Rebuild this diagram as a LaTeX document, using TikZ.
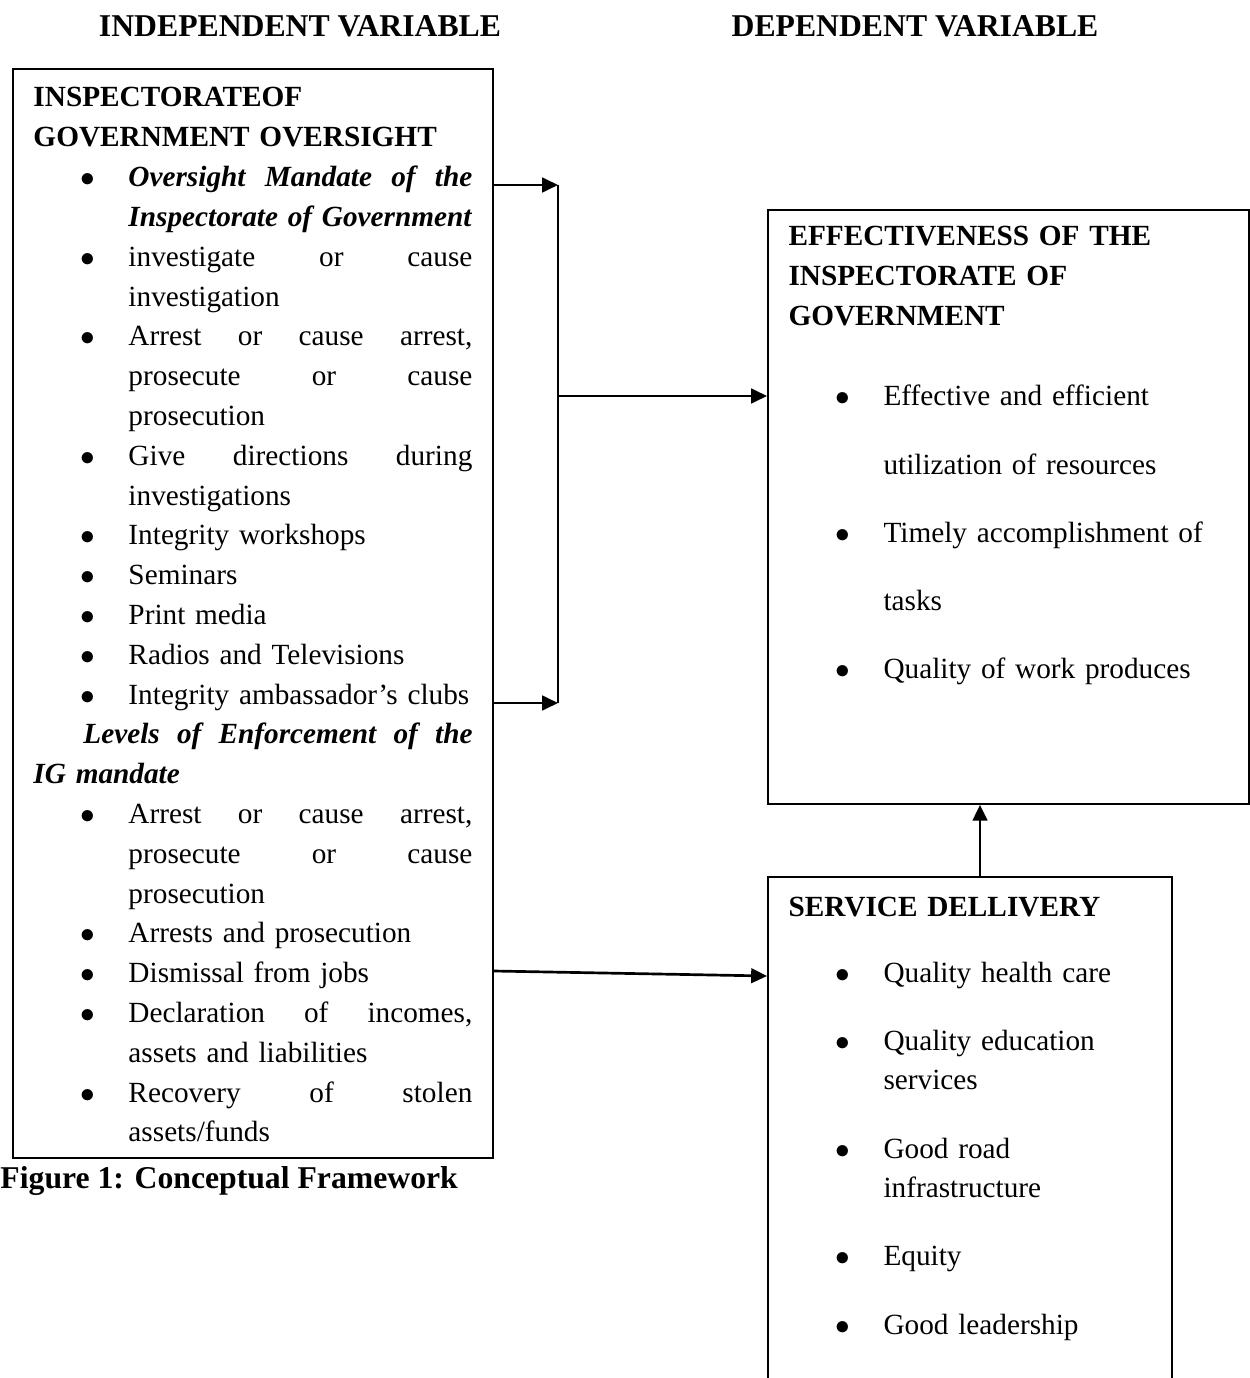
\documentclass[tikz,border=0pt]{standalone}
\usepackage{fontspec}
\setmainfont{Liberation Serif}
\usetikzlibrary{arrows.meta}

\newcommand{\spreadline}[1]{\makebox[141pt][s]{\spaceskip=3pt plus 1fil\relax#1}}
\newcommand{\contline}{\hspace*{38.95pt}}
\newcommand{\bulmark}{\leavevmode\llap{$\bullet$\hspace{13.8pt}}}
\newcommand{\bulitem}{\contline\bulmark}
\newcommand{\itemgap}{11.6pt}

\begin{document}
\begin{tikzpicture}[x=0.41pt, y=-0.41pt,
  box/.style={draw, line width=0.8pt, inner sep=0pt, anchor=north west},
  txt/.style={inner sep=0pt, anchor=base west, align=left, font={\fontsize{12}{16.32}\selectfont}},
  boldtxt/.style={txt, font={\fontsize{12}{16.32}\selectfont\bfseries}},
  head/.style={inner sep=0pt, anchor=base, font={\fontsize{13}{16}\selectfont\bfseries}},
  arr/.style={-{Triangle[length=6.5pt,width=6pt]}, line width=1.1pt}]
  \useasboundingbox (0,0) rectangle (1249,1378);

  % headings
  \node[head] (indep) at (300,37) {INDEPENDENT VARIABLE};
  \node[head] (dep) at (915,37) {DEPENDENT VARIABLE};

  % boxes
  \node[box, minimum width=196.8pt, minimum height=446.5pt] (iv) at (12,68) {};
  \node[box, minimum width=197.2pt, minimum height=243.5pt] (eff) at (767,209) {};
  \node[box, minimum width=165.6pt, minimum height=213pt] (sd) at (767,876) {};

  % independent variable text
  \node[txt, text width=181pt] (ivtext) at (33,107) {%
    \textbf{INSPECTORATEOF}\\
    \textbf{GOVERNMENT OVERSIGHT}\\
    \bulitem\spreadline{\textbf{\textit{Oversight Mandate of the}}}\\
    \contline\textbf{\textit{Inspectorate of Government}}\\
    \bulitem\spreadline{investigate or cause}\\
    \contline investigation\\
    \bulitem\spreadline{Arrest or cause arrest,}\\
    \contline\spreadline{prosecute or cause}\\
    \contline prosecution\\
    \bulitem\spreadline{Give directions during}\\
    \contline investigations\\
    \bulitem Integrity workshops\\
    \bulitem Seminars\\
    \bulitem Print media\\
    \bulitem Radios and Televisions\\
    \bulitem Integrity ambassador’s clubs\\
    \hspace*{20.5pt}\makebox[159.5pt][s]{\spaceskip=3pt plus 1fil\relax\textbf{\textit{Levels of Enforcement of the}}}\\
    \textbf{\textit{IG mandate}}\\
    \bulitem\spreadline{Arrest or cause arrest,}\\
    \contline\spreadline{prosecute or cause}\\
    \contline prosecution\\
    \bulitem Arrests and prosecution\\
    \bulitem Dismissal from jobs\\
    \bulitem\spreadline{Declaration of incomes,}\\
    \contline assets and liabilities\\
    \bulitem\spreadline{Recovery of stolen}\\
    \contline assets/funds};

  % dependent variable text
  \node[boldtxt, text width=175pt] (efftitle) at (788,246) {EFFECTIVENESS OF THE\\INSPECTORATE OF\\GOVERNMENT};
  \node[txt, text width=150pt] (efflist) at (883,406) {%
    \bulmark Effective and efficient\\[\itemgap]%
    utilization of resources\\[\itemgap]%
    \bulmark Timely accomplishment of\\[\itemgap]%
    tasks\\[\itemgap]%
    \bulmark Quality of work produces};

  \node[boldtxt, text width=150pt] (sdtitle) at (788,916) {SERVICE DELLIVERY};
  \node[txt, text width=110pt] (sdlist) at (883,982) {%
    \bulmark Quality health care\\[\itemgap]%
    \bulmark Quality education\\services\\[\itemgap]%
    \bulmark Good road\\infrastructure\\[\itemgap]%
    \bulmark Equity\\[\itemgap]%
    \bulmark Good leadership};

  \node[head, anchor=base west] (cap) at (0,1188) {Figure 1: Conceptual Framework};

  % connectors
  \coordinate (b1) at (558,185);
  \coordinate (b2) at (558,703);
  \coordinate (bm) at (558,396);
  \coordinate (up) at (980,0);
  \draw[arr] (iv.east |- b1) -- (b1);
  \draw[arr] (iv.east |- b2) -- (b2);
  \draw[line width=1.1pt] (b1) -- (b2);
  \draw[arr] (bm) -- (eff.west |- bm);
  \draw[arr] (iv.east |- 0,971) -- (sd.west |- 0,976);
  \draw[arr] (sd.north -| up) -- (eff.south -| up);
\end{tikzpicture}
\end{document}
